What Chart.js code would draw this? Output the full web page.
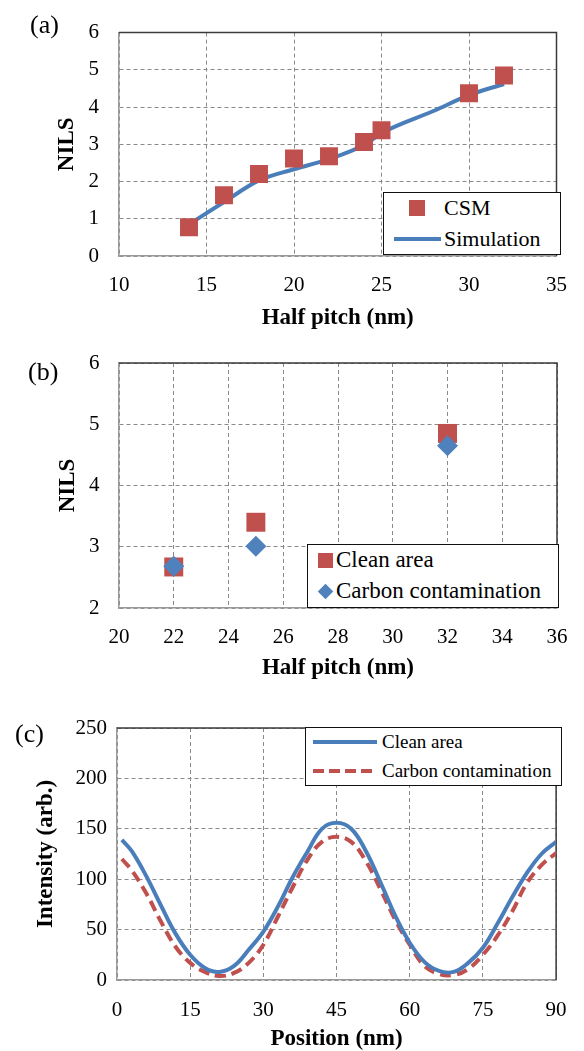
<!DOCTYPE html>
<html>
<head>
<meta charset="utf-8">
<script src="https://cdn.jsdelivr.net/npm/chart.js@4.4.1/dist/chart.umd.min.js"></script>
<style>
	body { margin: 0; background: #fff; }
	#page { position: relative; width: 584px; height: 1051px; overflow: hidden; font-family: 'Liberation Serif', 'Times New Roman', serif; color: #000; }
	.panel { position: absolute; left: 0; }
	.tag { position: absolute; font-size: 26px; line-height: 26px; }
	.legend { position: absolute; background: #fff; border: 1.5px solid #111; box-sizing: border-box; }
	.legend div { position: absolute; white-space: nowrap; }
</style>
</head>
<body>
<div id="page">
	<canvas id="chartA" class="panel" width="584" height="335" style="top:0px"></canvas>
	<canvas id="chartB" class="panel" width="584" height="355" style="top:330px"></canvas>
	<canvas id="chartC" class="panel" width="584" height="361" style="top:690px"></canvas>
	<div class="tag" style="left:30px; top:12px">(a)</div>
	<div class="tag" style="left:28px; top:359px">(b)</div>
	<div class="tag" style="left:15px; top:721px">(c)</div>
	<div id="legendA" class="legend" style="left:383px; top:192px; width:178px; height:63px; font-size:22px"></div>
	<div id="legendB" class="legend" style="left:307px; top:544px; width:252px; height:64px; font-size:23px"></div>
	<div id="legendC" class="legend" style="left:305px; top:727px; width:257px; height:59px; font-size:19px"></div>
</div>
<script>
// (a) NILS vs half pitch
var halfPitchCsm = [14, 16, 18, 20, 22, 24, 25, 30, 32];
var nilsCsm = [0.77, 1.63, 2.2, 2.62, 2.68, 3.06, 3.38, 4.37, 4.85];
var halfPitchSim = [14, 16, 18, 20, 22, 24, 25, 28, 30, 32];
var nilsSim = [0.85, 1.45, 2.03, 2.33, 2.6, 2.98, 3.3, 3.9, 4.32, 4.62];
var seriesA = ['CSM', 'Simulation'];
var xTicksA = [10, 15, 20, 25, 30, 35];
var yTicksA = [0, 1, 2, 3, 4, 5, 6];

// (b) clean vs contaminated
var halfPitchB = [22, 25, 32];
var nilsClean = [2.67, 3.4, 4.85];
var nilsCarbon = [2.68, 3.01, 4.65];
var seriesB = ['Clean area', 'Carbon contamination'];
var xTicksB = [20, 22, 24, 26, 28, 30, 32, 34, 36];
var yTicksB = [2, 3, 4, 5, 6];

// (c) intensity profiles
var positionNm = [1, 3, 6, 9, 12, 15, 18, 21, 24, 27, 30, 33, 36, 39, 42, 45, 48, 51, 54, 57, 60, 63, 66, 69, 72, 75, 78, 81, 84, 87, 90];
var intensityClean = [139, 128, 103, 74, 46, 25, 12, 8, 14, 30, 48, 73, 102, 127, 150, 156, 150, 128, 97, 64, 37, 18, 9, 8, 17, 32, 56, 82, 106, 125, 137];
var intensityCarbon = [120, 109, 86, 58, 33, 17, 8, 4, 7, 17, 35, 63, 92, 119, 137, 142, 137, 118, 90, 60, 35, 14, 6, 5, 11, 25, 44, 68, 96, 114, 126];
var seriesC = ['Clean area', 'Carbon contamination'];
var xTicksC = [0, 15, 30, 45, 60, 75, 90];
var yTicksC = [0, 50, 100, 150, 200, 250];

var RED = '#C0504D';
var BLUE = '#4A7EBB';
var DIAMOND = '#4F81BD';
var SERIF = "'Liberation Serif', 'Times New Roman', serif";

function toPoints(xs, ys) {
	return xs.map(function(x, i) { return {x: x, y: ys[i]}; });
}

// top and right edge of the plot box
var framePlugin = {
	id: 'frame',
	beforeDatasetsDraw: function(chart) {
		var a = chart.chartArea, ctx = chart.ctx;
		ctx.save();
		ctx.strokeStyle = '#3a3a3a';
		ctx.lineWidth = 1.5;
		ctx.beginPath();
		ctx.moveTo(a.left, a.top);
		ctx.lineTo(a.right, a.top);
		ctx.lineTo(a.right, a.bottom);
		ctx.stroke();
		ctx.restore();
	}
};

function axis(o) {
	return {
		type: 'linear',
		min: o.ticks[0],
		max: o.ticks[o.ticks.length - 1],
		afterBuildTicks: function(s) { s.ticks = o.ticks.map(function(v) { return {value: v}; }); },
		afterFit: function(s) {
			if (o.width) s.width = o.width;
			if (o.height) s.height = o.height;
		},
		grid: { color: '#8a8a8a', lineWidth: 1, drawTicks: false },
		// in v4 border.dash is the dash of the grid lines
		border: { display: true, color: '#9a9a9a', width: 1.5, dash: [4, 3] },
		ticks: { color: '#000', padding: o.pad, font: { family: SERIF, size: 21 } },
		title: {
			display: true,
			text: o.title,
			color: '#000',
			padding: o.titlePad,
			font: { family: SERIF, size: 23, weight: 'bold', lineHeight: 1 }
		}
	};
}

function baseOptions(pad, x, y) {
	return {
		responsive: false,
		animation: false,
		devicePixelRatio: 1,
		layout: { padding: pad },
		plugins: { legend: { display: false }, tooltip: { enabled: false } },
		scales: { x: axis(x), y: axis(y) }
	};
}

var optsA = baseOptions({left: 0, top: 19, right: 23, bottom: 0},
	{ticks: xTicksA, height: 79, pad: 17, title: 'Half pitch (nm)', titlePad: {top: 0, bottom: 5.5}},
	{ticks: yTicksA, width: 119, pad: 20, title: 'NILS', titlePad: {top: 55.5, bottom: 0}});

new Chart(document.getElementById('chartA'), {
	type: 'scatter',
	data: {
		datasets: [
			{
				label: seriesA[0],
				data: toPoints(halfPitchCsm, nilsCsm),
				order: 0,
				pointStyle: 'rect',
				pointRadius: 12.7,
				backgroundColor: RED,
				borderColor: RED,
				borderWidth: 0
			},
			{
				label: seriesA[1],
				data: toPoints(halfPitchSim, nilsSim),
				order: 1,
				showLine: true,
				cubicInterpolationMode: 'monotone',
				pointRadius: 0,
				borderColor: BLUE,
				borderWidth: 4
			}
		]
	},
	options: optsA,
	plugins: [framePlugin]
});

var optsB = baseOptions({left: 0, top: 33, right: 25, bottom: 0},
	{ticks: xTicksB, height: 77, pad: 16.5, title: 'Half pitch (nm)', titlePad: {top: 0, bottom: 5.5}},
	{ticks: yTicksB, width: 119, pad: 19.5, title: 'NILS', titlePad: {top: 57, bottom: 0}});

new Chart(document.getElementById('chartB'), {
	type: 'scatter',
	data: {
		datasets: [
			{
				label: seriesB[0],
				data: toPoints(halfPitchB, nilsClean),
				order: 1,
				pointStyle: 'rect',
				pointRadius: 13.4,
				backgroundColor: RED,
				borderColor: RED,
				borderWidth: 0
			},
			{
				label: seriesB[1],
				data: toPoints(halfPitchB, nilsCarbon),
				order: 0,
				pointStyle: 'rectRot',
				pointRadius: 10.5,
				backgroundColor: DIAMOND,
				borderColor: DIAMOND,
				borderWidth: 0
			}
		]
	},
	options: optsB,
	plugins: [framePlugin]
});

var optsC = baseOptions({left: 0, top: 38, right: 20, bottom: 0},
	{ticks: xTicksC, height: 71, pad: 17.4, title: 'Position (nm)', titlePad: {top: 0, bottom: 0}},
	{ticks: yTicksC, width: 117, pad: 10, title: 'Intensity (arb.)', titlePad: {top: 35, bottom: 0}});

new Chart(document.getElementById('chartC'), {
	type: 'scatter',
	data: {
		datasets: [
			{
				label: seriesC[0],
				data: toPoints(positionNm, intensityClean),
				order: 0,
				showLine: true,
				tension: 0.4,
				pointRadius: 0,
				borderColor: BLUE,
				borderWidth: 4
			},
			{
				label: seriesC[1],
				data: toPoints(positionNm, intensityCarbon),
				order: 1,
				showLine: true,
				tension: 0.4,
				pointRadius: 0,
				borderColor: RED,
				borderWidth: 4,
				borderDash: [11, 6]
			}
		]
	},
	options: optsC,
	plugins: [framePlugin]
});

// html legends
function addItem(box, swatch, text, cy, textLeft) {
	var s = document.createElement('div');
	s.style.cssText = swatch;
	box.appendChild(s);
	var t = document.createElement('div');
	t.textContent = text;
	t.style.left = textLeft + 'px';
	t.style.top = (cy - 15) + 'px';
	t.style.lineHeight = '30px';
	box.appendChild(t);
}
function square(cx, cy, size, color) {
	return 'left:' + (cx - size / 2) + 'px;top:' + (cy - size / 2) + 'px;width:' + size + 'px;height:' + size + 'px;background:' + color;
}
function diamond(cx, cy, size, color) {
	return square(cx, cy, size, color) + ';transform:rotate(45deg)';
}
function lineSw(x0, x1, cy, color, dashed) {
	var bg = dashed ? 'repeating-linear-gradient(90deg,' + color + ' 0 11px,transparent 11px 16px)' : color;
	return 'left:' + x0 + 'px;top:' + (cy - 2) + 'px;width:' + (x1 - x0) + 'px;height:4px;background:' + bg;
}

var lgA = document.getElementById('legendA');
addItem(lgA, square(33, 15, 16, RED), seriesA[0], 15, 60);
addItem(lgA, lineSw(10, 57, 46, BLUE, false), seriesA[1], 46, 60);

var lgB = document.getElementById('legendB');
addItem(lgB, square(17, 15, 15, RED), seriesB[0], 15, 28);
addItem(lgB, diamond(17, 46, 11, DIAMOND), seriesB[1], 46, 28);

var lgC = document.getElementById('legendC');
addItem(lgC, lineSw(7, 71, 14, BLUE, false), seriesC[0], 14, 76);
addItem(lgC, lineSw(7, 71, 43, RED, true), seriesC[1], 43, 76);
</script>
</body>
</html>
